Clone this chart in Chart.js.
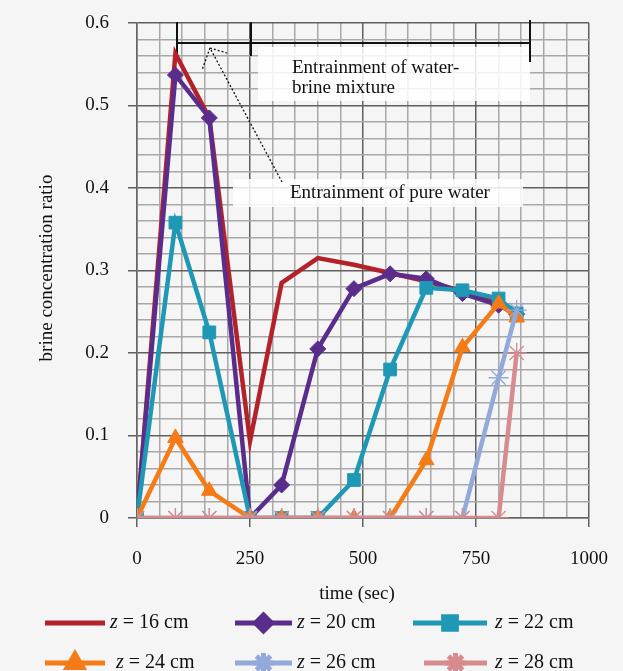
<!DOCTYPE html>
<html>
<head>
<meta charset="utf-8">
<script src="https://cdn.jsdelivr.net/npm/chart.js@4.4.1/dist/chart.umd.min.js"></script>
<style>
  html, body { margin: 0; padding: 0; background: #f5f5f5; }
  #wrap { width: 623px; height: 671px; position: relative; }
</style>
</head>
<body>
<div id="wrap"><canvas id="chart" width="623" height="671"></canvas></div>
<script>
// ---- data ----
const times = [0, 85, 160, 250, 320, 400, 480, 560, 640, 720, 800, 840];
const z16 = [0, 0.563, 0.485, 0.093, 0.285, 0.315, 0.307, 0.297, 0.287, 0.275, 0.262, 0.25];
const z20 = [0, 0.537, 0.485, 0, 0.04, 0.205, 0.278, 0.296, 0.29, 0.272, 0.258, 0.247];
const z22 = [0, 0.358, 0.225, 0, 0, 0, 0.046, 0.18, 0.279, 0.276, 0.266, 0.248];
const z24 = [0, 0.097, 0.033, 0, 0, 0, 0, 0, 0.07, 0.207, 0.26, 0.243];
const z26 = [0, 0, 0, 0, 0, 0, 0, 0, 0, 0, 0.17, 0.252];
const z28 = [0, 0, 0, 0, 0, 0, 0, 0, 0, 0, 0, 0.2];
const seriesLabels = ["16", "20", "22", "24", "26", "28"];
const xTickLabels = [0, 250, 500, 750, 1000];
const yTickLabels = [0, 0.1, 0.2, 0.3, 0.4, 0.5, 0.6];

const serif = "'Liberation Serif', 'DejaVu Serif', serif";
const pts = (vals) => vals.map((v, i) => ({ x: times[i], y: v }));

function isMajor(v, list) {
  return list.some((t) => Math.abs(t - v) < 1e-6);
}

const styles = [
  { color: "#b3222b", pointStyle: "circle", radius: 0, bw: 1 },
  { color: "#5a2d8c", pointStyle: "rectRot", radius: 8, bw: 1 },
  { color: "#1f98b6", pointStyle: "rect", radius: 9, bw: 1 },
  { color: "#f47b16", pointStyle: "triangle", radius: 9, bw: 1 },
  { color: "#92a9d9", pointStyle: "star", radius: 10, bw: 1.3 },
  { color: "#d68b8e", pointStyle: "star", radius: 10, bw: 1.3 },
];
const seriesData = [z16, z20, z22, z24, z26, z28];

const datasets = seriesData.map((vals, i) => ({
  label: "z = " + seriesLabels[i] + " cm",
  data: pts(vals),
  borderColor: styles[i].color,
  backgroundColor: styles[i].color,
  borderWidth: 4.5,
  pointStyle: styles[i].pointStyle,
  pointRadius: styles[i].radius,
  pointBorderWidth: styles[i].bw,
  pointBorderColor: styles[i].color,
  pointBackgroundColor: styles[i].color,
  tension: 0,
  order: 6 - i,
}));

/* ---------- annotations, axis titles and legend ---------- */
const extras = {
  id: "extras",
  beforeDatasetsDraw(chart) {
    const ctx = chart.ctx;
    ctx.save();
    // white boxes behind the annotation texts
    ctx.fillStyle = "rgba(255,255,255,0.85)";
    ctx.fillRect(258, 47, 272, 54);
    ctx.fillRect(233, 179, 290, 28);
    ctx.fillStyle = "#111";
    ctx.font = "19px " + serif;
    ctx.textBaseline = "middle";
    ctx.textAlign = "left";
    ctx.fillText("Entrainment of water-", 292, 68);
    ctx.fillText("brine mixture", 292, 88);
    ctx.fillText("Entrainment of pure water", 290, 193);

    // bracket
    ctx.strokeStyle = "#111";
    ctx.lineWidth = 2;
    ctx.beginPath();
    ctx.moveTo(177, 43); ctx.lineTo(530, 43);
    ctx.moveTo(177, 22); ctx.lineTo(177, 58);
    ctx.moveTo(251, 22); ctx.lineTo(251, 56);
    ctx.moveTo(530, 20); ctx.lineTo(530, 62);
    ctx.stroke();

    // dotted arrow
    ctx.lineWidth = 1.3;
    ctx.setLineDash([2, 2]);
    ctx.beginPath();
    ctx.moveTo(282, 182); ctx.lineTo(210, 48);
    ctx.moveTo(210, 48); ctx.lineTo(202, 70);
    ctx.moveTo(210, 48); ctx.lineTo(227, 53);
    ctx.stroke();
    ctx.setLineDash([]);
    ctx.restore();
  },
  afterDraw(chart) {
    const ctx = chart.ctx;
    ctx.save();
    ctx.fillStyle = "#111";
    ctx.font = "19px " + serif;
    ctx.textAlign = "center";
    ctx.textBaseline = "middle";
    ctx.fillText("time (sec)", 357, 594);
    ctx.translate(47, 268);
    ctx.rotate(-Math.PI / 2);
    ctx.fillText("brine concentration ratio", 0, 0);
    ctx.restore();

    // legend, 2 rows x 3 columns: [line start, line end, text x]
    const cols = [
      [[45, 105, 110], [235, 292, 297], [413, 487, 495]],
      [[45, 105, 116], [235, 292, 297], [424, 487, 495]],
    ];
    const rows = [623, 663];
    chart.data.datasets.forEach((ds, i) => {
      const r = Math.floor(i / 3);
      const c = cols[r][i % 3];
      const y = rows[r];
      const st = styles[i];
      ctx.save();
      ctx.strokeStyle = st.color;
      ctx.lineWidth = 5;
      ctx.beginPath();
      ctx.moveTo(c[0], y); ctx.lineTo(c[1], y);
      ctx.stroke();
      if (st.radius > 0) {
        ctx.fillStyle = st.color;
        Chart.helpers.drawPoint(ctx, {
          pointStyle: st.pointStyle, radius: st.radius, borderWidth: st.bw, rotation: 0,
        }, (c[0] + c[1]) / 2, y);
      }
      ctx.restore();
      ctx.save();
      ctx.fillStyle = "#111";
      ctx.textBaseline = "middle";
      ctx.textAlign = "left";
      ctx.font = "italic 20px " + serif;
      ctx.fillText("z", c[2], y);
      const w = ctx.measureText("z").width;
      ctx.font = "20px " + serif;
      ctx.fillText(" = " + seriesLabels[i] + " cm", c[2] + w, y);
      ctx.restore();
    });
  },
};

new Chart(document.getElementById("chart"), {
  type: "line",
  data: { datasets },
  plugins: [extras],
  options: {
    responsive: false,
    animation: false,
    events: [],
    layout: { padding: { left: 0, top: 23, right: 34, bottom: 0 } },
    plugins: { legend: { display: false }, tooltip: { enabled: false } },
    scales: {
      x: {
        type: "linear",
        min: 0,
        max: 1000,
        afterFit: (s) => { s.height = 153; s.paddingLeft = 0; s.paddingRight = 0; },
        border: { display: true, color: "#666", width: 1.5 },
        grid: {
          drawTicks: true,
          tickLength: 9,
          lineWidth: 1.5,
          color: (c) => (isMajor(c.tick.value, xTickLabels) ? "#606060" : "#a8a8a8"),
          tickColor: (c) => (isMajor(c.tick.value, xTickLabels) ? "#606060" : "rgba(0,0,0,0)"),
        },
        ticks: {
          stepSize: 50,
          autoSkip: false,
          maxRotation: 0,
          padding: 21,
          color: "#111",
          font: { family: serif, size: 19 },
          callback: (v) => (isMajor(v, xTickLabels) ? String(v) : ""),
        },
      },
      y: {
        min: 0,
        max: 0.6,
        afterFit: (s) => { s.width = 137; s.paddingTop = 0; s.paddingBottom = 0; },
        border: { display: true, color: "#666", width: 1.5 },
        grid: {
          drawTicks: true,
          tickLength: 9,
          lineWidth: 1.5,
          color: (c) => (isMajor(c.tick.value, yTickLabels) ? "#606060" : "#a8a8a8"),
          tickColor: (c) => (isMajor(c.tick.value, yTickLabels) ? "#606060" : "rgba(0,0,0,0)"),
        },
        ticks: {
          stepSize: 0.02,
          autoSkip: false,
          padding: 19,
          color: "#111",
          font: { family: serif, size: 19 },
          callback: (v) => {
            if (!isMajor(v, yTickLabels)) return "";
            return Math.abs(v) < 1e-9 ? "0" : v.toFixed(1);
          },
        },
      },
    },
  },
});
</script>
</body>
</html>
